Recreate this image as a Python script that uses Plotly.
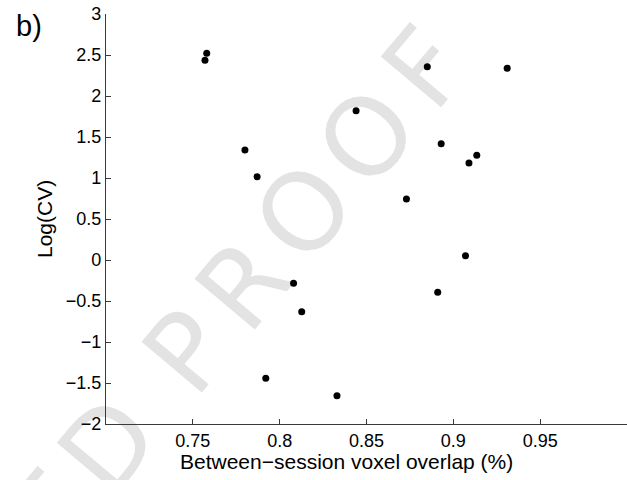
import math
import plotly.graph_objects as go

# Between-session voxel overlap (fraction) and log coefficient of variation
overlap = [0.758, 0.757, 0.780, 0.787, 0.885, 0.931, 0.844, 0.893, 0.9135,
           0.909, 0.873, 0.808, 0.8127, 0.907, 0.891, 0.792, 0.833]
log_cv = [2.52, 2.435, 1.34, 1.015, 2.357, 2.338, 1.82, 1.418, 1.277,
          1.183, 0.744, -0.284, -0.63, 0.052, -0.394, -1.443, -1.655]

x_ticks = [0.75, 0.8, 0.85, 0.9, 0.95]
y_ticks = [-2, -1.5, -1, -0.5, 0, 0.5, 1, 1.5, 2, 2.5, 3]

FONT = "Liberation Sans, Arial, Helvetica, sans-serif"
AXIS_COLOR = "#3a3a3a"

# Figure geometry (pixels)
W, H = 627, 480
L, R, T, B = 106, 0, 14, 56
PW, PH = W - L - R, H - T - B


def to_paper(px, py):
    """Pixel position in the page -> paper coordinates."""
    return (px - L) / PW, (H - B - py) / PH


fig = go.Figure()
fig.add_trace(go.Scatter(
    x=overlap, y=log_cv, mode="markers",
    marker=dict(color="black", size=7, line=dict(width=0)),
    showlegend=False, hoverinfo="x+y",
))

axis_common = dict(
    showline=True, linecolor=AXIS_COLOR, linewidth=1.3,
    ticks="inside", ticklen=5, tickwidth=1.3, tickcolor=AXIS_COLOR,
    showgrid=False, zeroline=False, mirror=False,
    tickfont=dict(family=FONT, size=18, color="black"),
)

fig.update_xaxes(range=[0.7, 1.0], tickvals=x_ticks,
                 ticktext=[f"{v:g}" for v in x_ticks], **axis_common)
fig.update_yaxes(range=[-2, 3], tickvals=y_ticks,
                 ticktext=[f"{v:g}".replace("-", "\u2212") for v in y_ticks],
                 **axis_common)

# Diagonal "UNCORRECTED PROOF" watermark (visible part), letter by letter
# so the wide letter spacing of the stamp is kept; drawn under the data.
WM_LETTERS = ["E", "D", "P", "R", "O", "O", "F"]
WM_STEPS = [-3.111, -2.417, -1.444, -0.75, 0.0, 0.778, 1.5]  # in letter widths
WM_PITCH = 126          # px per letter-width unit along the baseline
WM_ANGLE = 50           # degrees, counter-clockwise
WM_ORIGIN = (298, 207)  # pixel centre of the first "O"
ux, uy = math.cos(math.radians(WM_ANGLE)), -math.sin(math.radians(WM_ANGLE))
for letter, step in zip(WM_LETTERS, WM_STEPS):
    px = WM_ORIGIN[0] + step * WM_PITCH * ux
    py = WM_ORIGIN[1] + step * WM_PITCH * uy
    x0, y0 = to_paper(px - 10 * ux, py - 10 * uy)
    x1, y1 = to_paper(px + 10 * ux, py + 10 * uy)
    fig.add_shape(
        type="line", xref="paper", yref="paper",
        x0=x0, y0=y0, x1=x1, y1=y1,
        line=dict(width=0, color="rgba(0,0,0,0)"), layer="below",
        label=dict(text=letter, textposition="middle",
                   xanchor="center", yanchor="middle", textangle=-WM_ANGLE,
                   font=dict(family="DejaVu Sans", size=108,
                             color="#e3e3e3")),
    )

tx, ty = to_paper(346.5, 461)
fig.add_annotation(text="Between\u2212session voxel overlap (%)",
                   xref="paper", yref="paper", x=tx, y=ty,
                   xanchor="center", yanchor="middle", showarrow=False,
                   font=dict(family=FONT, size=21, color="black"))
lx, _ = to_paper(44, 0)
fig.add_annotation(text="Log(CV)", textangle=-90,
                   xref="paper", yref="paper", x=lx, y=0.5,
                   xanchor="center", yanchor="middle", showarrow=False,
                   font=dict(family=FONT, size=21, color="black"))
bx, by = to_paper(14, 8)
fig.add_annotation(text="b)", xref="paper", yref="paper", x=bx, y=by,
                   xanchor="left", yanchor="top", showarrow=False,
                   font=dict(family=FONT, size=29, color="black"))

fig.update_layout(
    width=W, height=H,
    margin=dict(l=L, r=R, t=T, b=B),
    plot_bgcolor="white", paper_bgcolor="white",
    font=dict(family=FONT, color="black"),
)

fig.write_html("out.html")
